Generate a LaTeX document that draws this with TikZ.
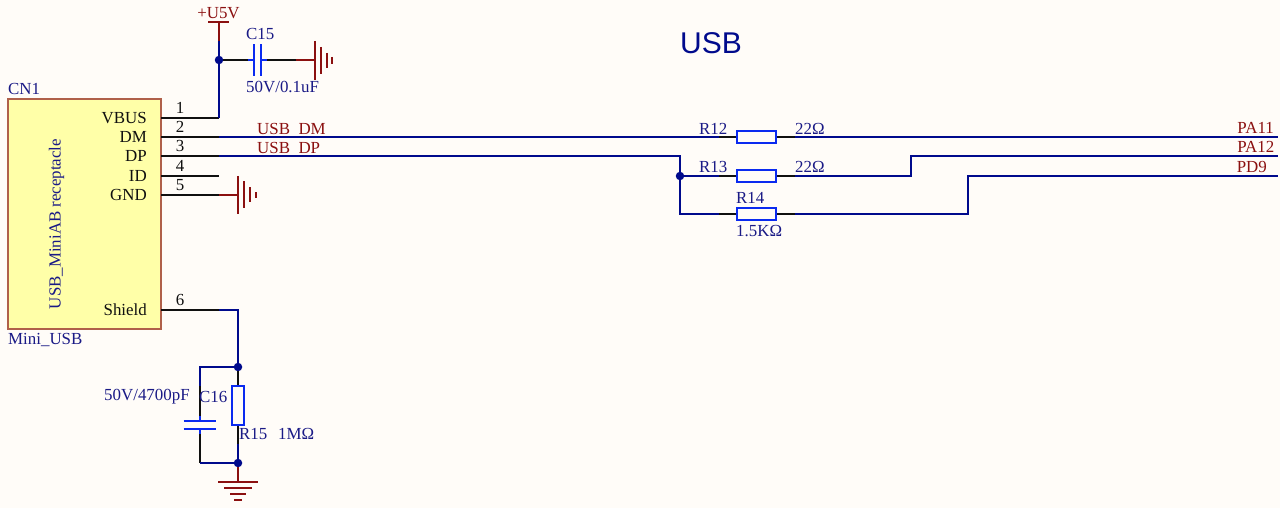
\documentclass[tikz,border=0pt]{standalone}
\usepackage{fontspec}
\setmainfont{Liberation Serif}
\newfontfamily\titlefont{Liberation Sans}
\definecolor{bgc}{HTML}{FFFCF8}
\definecolor{wireblue}{HTML}{000A8C}
\definecolor{partblue}{HTML}{0A2AF0}
\definecolor{labelblue}{HTML}{1A1A86}
\definecolor{netred}{HTML}{8B1010}
\definecolor{boxfill}{HTML}{FFFFA8}
\definecolor{boxline}{HTML}{B0604A}
\definecolor{pinblack}{HTML}{101010}
\newcommand{\lowus}{\raisebox{-1.5pt}{\_}}
\tikzset{
  wire/.style={draw=wireblue,line width=2.3pt},
  lead/.style={draw=pinblack,line width=2.3pt},
  rednet/.style={draw=netred,line width=2.3pt},
  plate/.style={draw=partblue,line width=2.3pt},
  res/.style={draw=partblue,line width=2.5pt,fill=bgc,rectangle,inner sep=0pt,minimum width=39pt,minimum height=12pt},
  resv/.style={res,minimum width=12pt,minimum height=39pt},
  dot/.style={circle,fill=wireblue,inner sep=0pt,minimum size=8.5pt},
  txt/.style={inner sep=0pt,font=\fontsize{16.9}{17}\selectfont,text=labelblue},
  pinname/.style={txt,text=pinblack,anchor=east},
  pinnum/.style={txt,text=pinblack},
  netl/.style={txt,text=netred}
}
\begin{document}
\begin{tikzpicture}[x=1pt,y=-1pt]
\useasboundingbox (0,0) rectangle (1280,508);
\fill[bgc] (0,0) rectangle (1280,508);
% text hidden partly by the wires
\node[netl,anchor=base west] (ldm) at (257,134.5) {USB\lowus DM};
\node[netl,anchor=base west] (ldp) at (257,153.5) {USB\lowus DP};
% connector box
\node[draw=boxline,fill=boxfill,line width=1.6pt,rectangle,inner sep=0pt,minimum width=153pt,minimum height=230pt] (cn) at (84.5,214) {};
\node[txt,rotate=90] (cnname) at (56.5,224) {USB\_MiniAB receptacle};
\node[txt,anchor=west] (cn1) at (8,89) {CN1};
\node[txt,anchor=west] (mini) at (8,340) {Mini\_USB};
% pin ends
\foreach \n/\y in {a/118,b/137,c/156,d/176,e/195,f/310}{
  \coordinate (p\n) at (161,\y);
  \coordinate (q\n) at (219,\y);
}
\draw[lead] (pa) -- (qa);
\draw[lead] (pb) -- (qb);
\draw[lead] (pc) -- (qc);
\draw[lead] (pd) -- (qd);
\draw[lead] (pe) -- (qe);
\draw[lead] (pf) -- (qf);
\foreach \n/\t/\y in {1/VBUS/118,2/DM/137,3/DP/156,4/ID/176,5/GND/195,6/Shield/310}{
  \node[pinname] (pn\n) at (147,\y) {\t};
  \node[pinnum] (pm\n) at (180,\y-10) {\n};
}
% +U5V
\coordinate (pwr) at (219,22);
\coordinate (pwrb) at (219,41);
\node[dot] (j1) at (219,60) {};
\draw[rednet] (208,22) -- (229,22);
\draw[rednet] (pwr) -- (pwrb);
\draw[wire] (qa) -- (j1) -- (pwrb);
\node[netl] (u5v) at (218.5,13) {+U5V};
% C15
\coordinate (c15a) at (248,60);
\coordinate (c15b) at (254,60);
\coordinate (c15c) at (261,60);
\coordinate (c15d) at (267,60);
\coordinate (c15e) at (296,60);
\coordinate (g1) at (315,60);
\draw[lead] (j1) -- (c15a);
\draw[plate] (c15a) -- (c15b);
\draw[plate] (c15c) -- (c15d);
\draw[lead] (c15d) -- (c15e);
\draw[plate] (254,44.5) -- (254,76.5);
\draw[plate] (261,44.5) -- (261,76.5);
\draw[rednet] (c15e) -- (g1);
\draw[rednet] (315,41) -- (315,80);
\draw[rednet] (321,47) -- (321,74);
\draw[rednet] (327,53) -- (327,68);
\draw[rednet] (332,57) -- (332,64);
\node[txt,anchor=west] (c15) at (246,34) {C15};
\node[txt,anchor=west] (c15v) at (246,87) {50V/0.1uF};
% GND pin 5
\coordinate (g2) at (238,195);
\draw[rednet] (qe) -- (g2);
\draw[rednet] (238,176) -- (238,214);
\draw[rednet] (244,181) -- (244,208);
\draw[rednet] (250,187) -- (250,202);
\draw[rednet] (256,192) -- (256,198);
% resistors
\node[res] (r12) at (756.5,137) {};
\node[res] (r13) at (756.5,176) {};
\node[res] (r14) at (756.5,214) {};
\coordinate (r12l) at (719,137);
\coordinate (r12r) at (795,137);
\coordinate (r13l) at (719,176);
\coordinate (r13r) at (795,176);
\coordinate (r14l) at (719,214);
\coordinate (r14r) at (795,214);
\coordinate (pa11) at (1278,137);
\coordinate (pa12) at (1278,156);
\coordinate (pd9) at (1278,176);
\coordinate (dpk) at (680,156);
\coordinate (dpb) at (680,214);
\node[dot] (j2) at (680,176) {};
\draw[wire] (qb) -- (r12l);
\draw[wire] (qc) -- (dpk) -- (j2) -- (dpb) -- (r14l);
\draw[wire] (j2) -- (r13l);
\draw[lead] (r12l) -- (r12);
\draw[lead] (r12) -- (r12r);
\draw[lead] (r13l) -- (r13);
\draw[lead] (r13) -- (r13r);
\draw[lead] (r14l) -- (r14);
\draw[lead] (r14) -- (r14r);
\draw[wire] (r12r) -- (pa11);
\draw[wire] (r13r) -- (911,176) -- (911,156) -- (pa12);
\draw[wire] (r14r) -- (968,214) -- (968,176) -- (pd9);
\node[txt,anchor=west] (r12t) at (699,129) {R12};
\node[txt,anchor=west] (r12v) at (795,129) {22Ω};
\node[txt,anchor=west] (r13t) at (699,167) {R13};
\node[txt,anchor=west] (r13v) at (795,167) {22Ω};
\node[txt,anchor=west] (r14t) at (736,198) {R14};
\node[txt,anchor=west] (r14v) at (736,231) {1.5KΩ};
\node[netl,anchor=east] (l11) at (1274,128) {PA11};
\node[netl,anchor=east] (l12) at (1274.5,147) {PA12};
\node[netl,anchor=east] (l9) at (1267,167) {PD9};
% Shield
\node[dot] (j3) at (238,367) {};
\node[dot] (j4) at (238,463) {};
\node[resv] (r15) at (238,405.5) {};
\coordinate (shk) at (238,310);
\coordinate (r15b) at (238,444);
\draw[wire] (qf) -- (shk) -- (j3);
\draw[lead] (j3) -- (r15);
\draw[lead] (r15) -- (r15b);
\draw[wire] (r15b) -- (j4);
\coordinate (c16a) at (200,367);
\coordinate (c16b) at (200,386);
\coordinate (c16c) at (200,416);
\coordinate (c16d) at (200,421);
\coordinate (c16e) at (200,429);
\coordinate (c16f) at (200,434);
\coordinate (c16g) at (200,463);
\draw[wire] (j3) -- (c16a) -- (c16b);
\draw[lead] (c16b) -- (c16c);
\draw[plate] (c16c) -- (c16d);
\draw[plate] (c16e) -- (c16f);
\draw[lead] (c16f) -- (c16g);
\draw[wire] (c16g) -- (j4);
\draw[plate] (183.5,421) -- (216,421);
\draw[plate] (183.5,429) -- (216,429);
\coordinate (g3) at (238,482);
\draw[rednet] (j4) -- (g3);
\draw[rednet] (218,482) -- (258,482);
\draw[rednet] (224,488) -- (252,488);
\draw[rednet] (230,494) -- (246,494);
\draw[rednet] (234,500) -- (242,500);
\node[txt,anchor=west] (c16v) at (104,397) {50V/4700pF};
\node[txt,anchor=west] (c16t) at (199,397) {C16};
\node[txt,anchor=west] (r15t) at (239,434) {R15};
\node[txt,anchor=west] (r15v) at (278,434) {1MΩ};
% title
\node[inner sep=0pt,font=\titlefont\fontsize{30}{30}\selectfont,text=wireblue] (title) at (711,43) {USB};
\end{tikzpicture}
\end{document}
